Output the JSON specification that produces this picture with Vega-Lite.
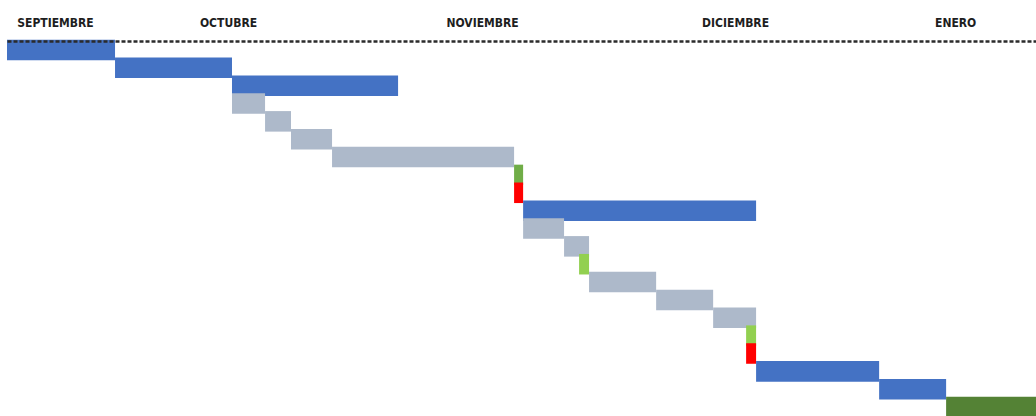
{
  "$schema": "https://vega.github.io/schema/vega-lite/v6.json",
  "autosize": {"type": "none"},
  "width": 1029,
  "height": 375,
  "padding": {"left": 7, "top": 41, "right": 0, "bottom": 0},
  "background": "white",
  "config": {"view": {"stroke": null}},
  "data": {
    "values": [
      {"row": 1, "start": 0, "end": 11.37, "kind": "main"},
      {"row": 2, "start": 11.37, "end": 23.68, "kind": "main"},
      {"row": 3, "start": 23.68, "end": 41.16, "kind": "main"},
      {"row": 4, "start": 23.68, "end": 27.16, "kind": "sub"},
      {"row": 5, "start": 27.16, "end": 29.89, "kind": "sub"},
      {"row": 6, "start": 29.89, "end": 34.21, "kind": "sub"},
      {"row": 7, "start": 34.21, "end": 53.37, "kind": "sub"},
      {"row": 8, "start": 53.37, "end": 54.32, "kind": "ok"},
      {"row": 9, "start": 53.37, "end": 54.32, "kind": "alert"},
      {"row": 10, "start": 54.32, "end": 78.84, "kind": "main"},
      {"row": 11, "start": 54.32, "end": 58.63, "kind": "sub"},
      {"row": 12, "start": 58.63, "end": 61.26, "kind": "sub"},
      {"row": 13, "start": 60.21, "end": 61.26, "kind": "check"},
      {"row": 14, "start": 61.26, "end": 68.32, "kind": "sub"},
      {"row": 15, "start": 68.32, "end": 74.32, "kind": "sub"},
      {"row": 16, "start": 74.32, "end": 78.84, "kind": "sub"},
      {"row": 17, "start": 77.79, "end": 78.84, "kind": "check"},
      {"row": 18, "start": 77.79, "end": 78.84, "kind": "alert"},
      {"row": 19, "start": 78.84, "end": 91.79, "kind": "main"},
      {"row": 20, "start": 91.79, "end": 98.84, "kind": "main"},
      {"row": 21, "start": 98.84, "end": 108.3, "kind": "final"}
    ]
  },
  "mark": {"type": "bar", "height": {"band": 1.15}, "cornerRadius": 0},
  "encoding": {
    "y": {
      "field": "row",
      "type": "ordinal",
      "scale": {"paddingInner": 0, "paddingOuter": 0},
      "axis": null
    },
    "x": {
      "field": "start",
      "type": "quantitative",
      "scale": {"domain": [0, 108.3], "nice": false, "zero": false},
      "axis": {
        "orient": "top",
        "title": null,
        "values": [5.05, 23.26, 50.0, 76.63, 99.79],
        "labelExpr": "datum.value < 10 ? 'SEPTIEMBRE' : datum.value < 30 ? 'OCTUBRE' : datum.value < 60 ? 'NOVIEMBRE' : datum.value < 90 ? 'DICIEMBRE' : 'ENERO'",
        "grid": false,
        "ticks": false,
        "tickSize": 0,
        "labelPadding": 12,
        "labelFont": "Liberation Sans Narrow, DejaVu Sans Condensed, sans-serif",
        "labelFontWeight": "bold",
        "labelFontSize": 12,
        "labelColor": "#1e1e1e",
        "labelFlush": false,
        "labelOverlap": false,
        "domain": true,
        "domainColor": "#2b2b2b",
        "domainWidth": 2.5,
        "domainDash": [4, 2],
        "zindex": 1
      }
    },
    "x2": {"field": "end"},
    "color": {
      "field": "kind",
      "type": "nominal",
      "scale": {
        "domain": ["main", "sub", "ok", "alert", "check", "final"],
        "range": ["#4472C4", "#ADB9CA", "#70AD47", "#FF0000", "#92D050", "#548235"]
      },
      "legend": null
    }
  }
}
